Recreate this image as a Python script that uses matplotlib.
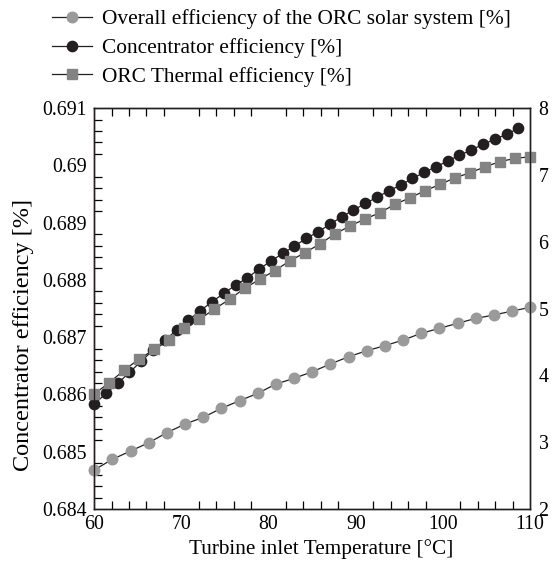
import matplotlib
matplotlib.use('Agg')
import matplotlib.pyplot as plt
from matplotlib.ticker import MultipleLocator, FuncFormatter

plt.rcParams['font.family'] = ['Liberation Serif', 'DejaVu Serif']

# Concentrator efficiency (left axis)
T_conc = [60.00, 61.35, 62.70, 64.05, 65.41, 66.76, 68.11, 69.46, 70.81, 72.16,
          73.51, 74.86, 76.22, 77.57, 78.92, 80.27, 81.62, 82.97, 84.32, 85.68,
          87.03, 88.38, 89.73, 91.08, 92.43, 93.78, 95.14, 96.49, 97.84, 99.19,
          100.54, 101.89, 103.24, 104.59, 105.95, 107.30, 108.65]
eff_conc = [0.685828, 0.686020, 0.686194, 0.686386, 0.686583, 0.686775, 0.686950,
            0.687124, 0.687299, 0.687461, 0.687618, 0.687765, 0.687910, 0.688037,
            0.688189, 0.688329, 0.688463, 0.688591, 0.688725, 0.688840, 0.688970,
            0.689102, 0.689219, 0.689336, 0.689441, 0.689556, 0.689655, 0.689772,
            0.689877, 0.689975, 0.690074, 0.690179, 0.690266, 0.690371, 0.690453,
            0.690546, 0.690645]

# ORC thermal efficiency (right axis)
T_orc = [60.00, 61.72, 63.45, 65.17, 66.90, 68.62, 70.34, 72.07, 73.79, 75.52,
         77.24, 78.97, 80.69, 82.41, 84.14, 85.86, 87.59, 89.31, 91.03, 92.76,
         94.48, 96.21, 97.93, 99.66, 101.38, 103.10, 104.83, 106.55, 108.28, 110.00]
eff_orc = [3.721, 3.890, 4.080, 4.245, 4.390, 4.529, 4.704, 4.839, 4.993, 5.138,
           5.302, 5.437, 5.566, 5.711, 5.835, 5.965, 6.115, 6.235, 6.339, 6.434,
           6.559, 6.658, 6.763, 6.859, 6.957, 7.032, 7.122, 7.200, 7.248, 7.272]

# Overall efficiency (right axis)
T_all = [60.00, 62.08, 64.17, 66.25, 68.33, 70.42, 72.50, 74.58, 76.67, 78.75,
         80.83, 82.92, 85.00, 87.08, 89.17, 91.25, 93.33, 95.42, 97.50, 99.58,
         101.67, 103.75, 105.83, 107.92, 110.00]
eff_all = [2.584, 2.744, 2.868, 2.992, 3.142, 3.272, 3.372, 3.507, 3.621, 3.731,
           3.870, 3.956, 4.054, 4.170, 4.279, 4.369, 4.444, 4.529, 4.629, 4.704,
           4.779, 4.853, 4.903, 4.963, 5.018]

labels = ['Overall efficiency of the ORC solar system [%]',
          'Concentrator efficiency [%]',
          'ORC Thermal efficiency [%]']

fig = plt.figure(figsize=(5.54, 5.69), dpi=100)
ax = fig.add_axes([0.170, 0.1054, 0.787, 0.7046])
ax2 = ax.twinx()

FS_TICK = 14.3
FS_LEG = 15.4
FS_X = 15.3
FS_Y = 17.5

lc, = ax.plot(T_conc, eff_conc, color='#231f20', lw=0.9, marker='o', ms=7.4,
              mfc='#231f20', mec='#231f20', clip_on=False, label=labels[1])
lo, = ax2.plot(T_orc, eff_orc, color='#231f20', lw=0.9, marker='s', ms=7.4,
               mfc='#838383', mec='#838383', clip_on=False, label=labels[2])
la, = ax2.plot(T_all, eff_all, color='#231f20', lw=0.9, marker='o', ms=7.6,
               mfc='#9a9a9a', mec='#9a9a9a', clip_on=False, label=labels[0])

ax.set_xlim(60, 110)
ax.set_ylim(0.684, 0.691)
ax2.set_ylim(2, 8)

ax.xaxis.set_major_locator(MultipleLocator(10))
ax.xaxis.set_minor_locator(MultipleLocator(2))
ax.yaxis.set_major_locator(MultipleLocator(0.001))
ax.yaxis.set_minor_locator(MultipleLocator(0.0002))
ax.yaxis.set_major_formatter(FuncFormatter(lambda v, p: ('%.3f' % v).rstrip('0')))
ax2.yaxis.set_major_locator(MultipleLocator(1))

ax.tick_params(which='major', length=0, labelsize=FS_TICK, pad=5)
ax.tick_params(axis='x', which='major', pad=4)
ax.tick_params(which='minor', direction='in', length=6, width=0.9,
               top=True, bottom=True, left=True, right=False)
ax.tick_params(axis='x', which='both', top=True)
ax2.tick_params(which='both', length=0, labelsize=FS_TICK, pad=6)
ax2.tick_params(axis='x', which='both', top=False, bottom=False)

for a in (ax, ax2):
    for s in a.spines.values():
        s.set_linewidth(1.0)
        s.set_color('#231f20')

ax.set_xlabel('Turbine inlet Temperature [°C]', fontsize=FS_X)
ax.set_ylabel('Concentrator efficiency [%]', fontsize=FS_Y)
ax.xaxis.set_label_coords(0.52, -0.0998)
ax.xaxis.label.set_va('center')
ax.yaxis.set_label_coords(-0.163, 0.434)
ax.yaxis.label.set_va('center')

fig.legend([la, lc, lo], labels, loc='upper left',
           bbox_to_anchor=(51.7 / 554, 1 - 9.5 / 569),
           frameon=False, fontsize=FS_LEG, handlelength=1.87, handletextpad=0.47,
           labelspacing=0.41, borderaxespad=0, borderpad=0)

fig.savefig('out.png', dpi=100)
